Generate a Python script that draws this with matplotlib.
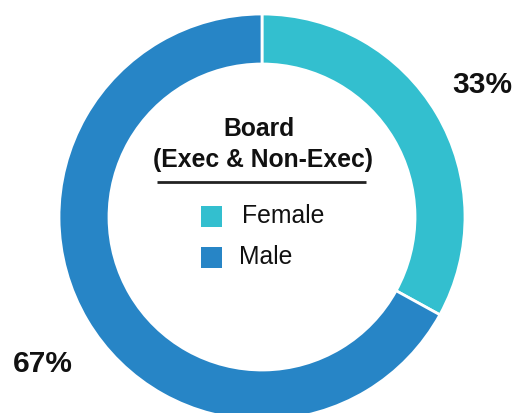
import matplotlib
matplotlib.use("Agg")
import matplotlib.pyplot as plt
from matplotlib.patches import Rectangle

categories = ["Female", "Male"]
values = [33, 67]
labels = ["33%", "67%"]
colors = ["#33BFCF", "#2785C6"]
title_lines = ["Board", "(Exec & Non-Exec)"]

W, H = 516, 414
fig = plt.figure(figsize=(W / 100, H / 100), dpi=100)
ax = fig.add_axes([0, 0, 1, 1])

def Y(y):
    return H - y

cx, cy, R, ring = 262, 218, 203, 50
ax.pie(values, colors=colors, startangle=90, counterclock=False,
       center=(cx, Y(cy)), radius=R,
       wedgeprops=dict(width=ring, edgecolor="white", linewidth=2))
ax.set_xlim(0, W)
ax.set_ylim(0, H)
ax.set_aspect("equal")
ax.axis("off")

font = "Liberation Sans"
ax.text(482, Y(85), labels[0], ha="center", va="center", fontsize=21.5,
        fontweight="bold", family=font, color="#111111")
ax.text(43, Y(364), labels[1], ha="center", va="center", fontsize=21.5,
        fontweight="bold", family=font, color="#111111")

ax.text(259, Y(129), title_lines[0], ha="center", va="center", fontsize=17.8,
        fontweight="bold", family=font, color="#111111")
ax.text(263, Y(160), title_lines[1], ha="center", va="center", fontsize=17.8,
        fontweight="bold", family=font, color="#111111")
ax.plot([157, 366], [Y(183), Y(183)], color="#222222", lw=2, solid_capstyle="butt")

legend_y = [217.5, 258.5]
legend_x = [242, 239]
for cat, col, ly, lx in zip(categories, colors, legend_y, legend_x):
    ax.add_patch(Rectangle((201, Y(ly) - 10.5), 21, 21, facecolor=col, edgecolor="none"))
    ax.text(lx, Y(ly - 1.5), cat, ha="left", va="center", fontsize=17.8,
            family=font, color="#111111")

fig.savefig("out.png", dpi=100)
